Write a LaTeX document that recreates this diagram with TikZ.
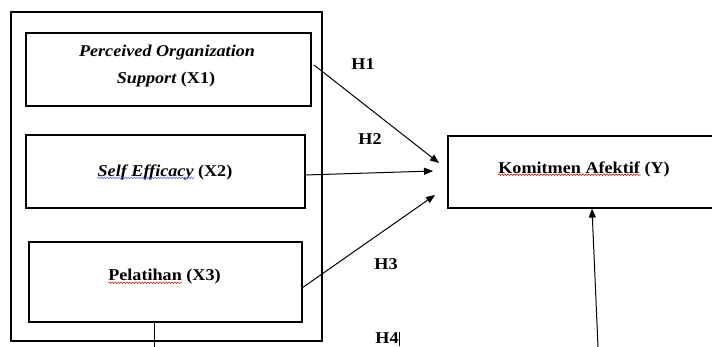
\documentclass[tikz,border=0pt]{standalone}
\usepackage{fontspec}
\setmainfont{Liberation Serif}
\usetikzlibrary{arrows.meta,decorations.pathmorphing}
\newcommand{\widetxt}[1]{\scalebox{1.1}[1]{#1}}
\begin{document}
\begin{tikzpicture}[x=1pt,y=-1pt,
  box/.style={draw,line width=1.2pt,inner sep=0pt},
  arr/.style={line width=1pt,-{Triangle[length=9pt,width=7pt]}},
  lab/.style={font=\fontsize{16.5}{20}\selectfont\bfseries,inner sep=0pt},
  redw/.style={draw=red!85!black,line width=0.5pt,decorate,decoration={snake,amplitude=0.8pt,segment length=3pt}},
  bluew/.style={draw=blue!70,line width=0.5pt,decorate,decoration={snake,amplitude=0.8pt,segment length=3pt}}]
\useasboundingbox (0,0) rectangle (712,347);
\node[box,line width=1.4pt,minimum width=311pt,minimum height=329pt] (outer) at (166.5,176.5) {};
\node[box,minimum width=285pt,minimum height=73pt] (x1) at (168.5,69.5) {};
\node[lab] (t1a) at (167,53) {\widetxt{\itshape Perceived Organization}};
\node[lab] (t1b) at (166,80) {\widetxt{{\itshape Support} (X1)}};
\node[box,minimum width=279pt,minimum height=73pt] (x2) at (165.5,171.5) {};
\node[lab] (t2) at (165,172) {\widetxt{{\itshape Self Efficacy} (X2)}};
\node[box,minimum width=273pt,minimum height=80pt] (x3) at (165.5,282) {};
\node[lab] (t3) at (164.5,277) {\widetxt{Pelatihan (X3)}};
\node[box,minimum width=272pt,minimum height=72pt] (y) at (584,172) {};
\node[lab] (ty) at (584,169) {\widetxt{Komitmen Afektif (Y)}};
% spell-check underlines
\draw[bluew] ([yshift=2pt]t2.south west) -- ([yshift=2pt,xshift=-38pt]t2.south east);
\draw[redw] ([yshift=2pt]t3.south west) -- ([yshift=2pt,xshift=-39pt]t3.south east);
\draw[redw] ([yshift=2pt]ty.south west) -- ([yshift=2pt,xshift=-29pt]ty.south east);
% labels
\node[lab] (h1) at (363,64) {\widetxt{H1}};
\node[lab] (h2) at (370,139) {\widetxt{H2}};
\node[lab] (h3) at (386,264) {\widetxt{H3}};
\node[lab] (h4) at (387,338) {\widetxt{H4}};
\coordinate (cur1) at (399,332);
\coordinate (cur2) at (399,346);
\draw[line width=0.4pt] (cur1) -- (cur2);
% arrows
\coordinate (s1) at (314,65);
\coordinate (e1) at (439,163);
\coordinate (s2) at (305,175);
\coordinate (e2) at (433,171);
\coordinate (s3) at (302,288);
\coordinate (e3) at (435,195);
\coordinate (s4) at (598,347);
\coordinate (b3) at (154,347);
\draw[arr] (s1) -- (e1);
\draw[arr] (s2) -- (e2);
\draw[arr] (s3) -- (e3);
\draw[arr] (s4) -- (592,208.6);
\draw[line width=1pt] ([xshift=-11.5pt,yshift=2pt]x3.south) -- (b3);
\end{tikzpicture}
\end{document}
